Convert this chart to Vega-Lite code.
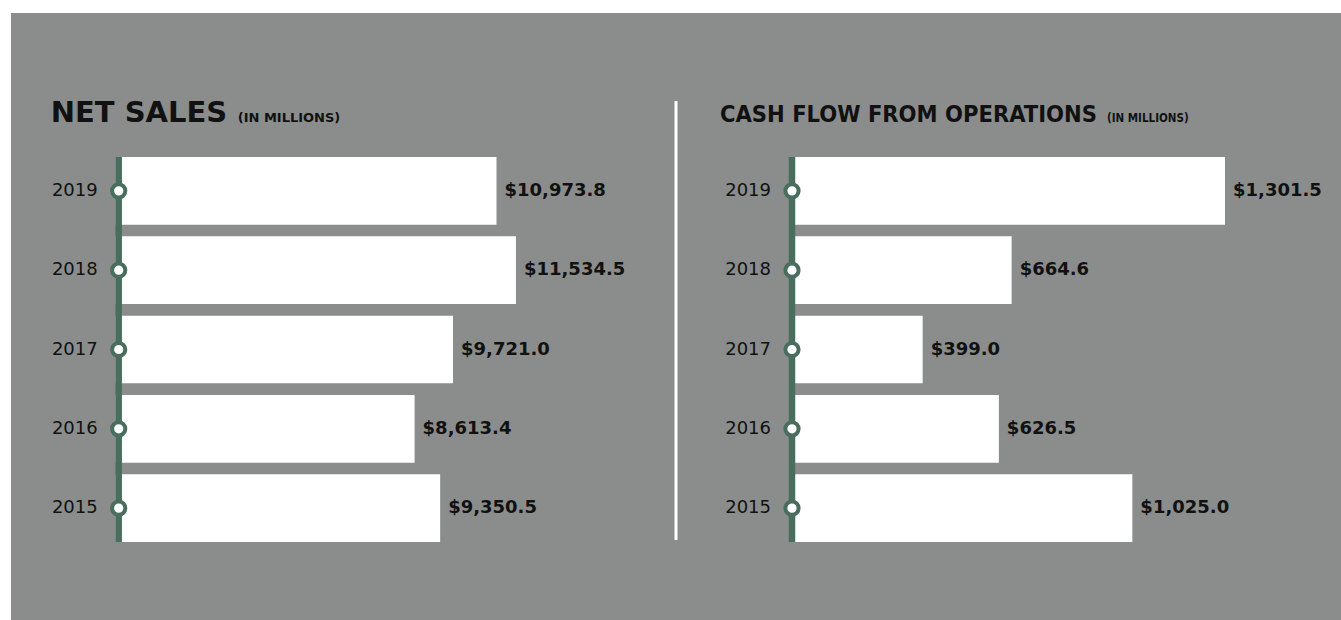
{
  "$schema": "https://vega.github.io/schema/vega-lite/v6.json",
  "width": 1341,
  "height": 620,
  "autosize": {"type": "fit", "contains": "padding"},
  "padding": {"left": 11, "top": 13, "right": 0, "bottom": 0},
  "background": "white",
  "config": {"view": {"fill": "#8a8d8c", "stroke": null}},
  "datasets": {
    "sales": [
      {"year": "2019", "value": 10973.8},
      {"year": "2018", "value": 11534.5},
      {"year": "2017", "value": 9721.0},
      {"year": "2016", "value": 8613.4},
      {"year": "2015", "value": 9350.5}
    ],
    "cash": [
      {"year": "2019", "value": 1301.5},
      {"year": "2018", "value": 664.6},
      {"year": "2017", "value": 399.0},
      {"year": "2016", "value": 626.5},
      {"year": "2015", "value": 1025.0}
    ],
    "one": [{"k": 1}]
  },
  "layer": [
    {
      "data": {"name": "sales"},
      "layer": [
        {
          "mark": {"type": "bar", "color": "white"},
          "encoding": {
            "y": {"field": "year", "type": "ordinal", "axis": null, "scale": {"domain": ["2019", "2018", "2017", "2016", "2015"], "paddingInner": 0.146, "paddingOuter": 0, "range": [144, 529]}},
            "x": {"field": "value", "type": "quantitative", "axis": null, "scale": {"domain": [-3017.3, 35311.2], "nice": false, "zero": false}},
            "x2": {"datum": 0}
          }
        },
        {
          "data": {"name": "one"},
          "mark": {"type": "rule", "color": "#4a6e5e", "strokeWidth": 6.5, "xOffset": 3},
          "encoding": {
            "x": {"datum": 0, "type": "quantitative"},
            "y": {"datum": "2019", "type": "ordinal", "bandPosition": 0},
            "y2": {"datum": "2015", "bandPosition": 1}
          }
        },
        {
          "mark": {"type": "point", "shape": "circle", "filled": true, "fill": "white", "stroke": "#4a6e5e", "strokeWidth": 4, "size": 175, "opacity": 1, "xOffset": 3},
          "encoding": {
            "y": {"field": "year", "type": "ordinal"},
            "x": {"datum": 0, "type": "quantitative"}
          }
        },
        {
          "mark": {"type": "text", "align": "right", "baseline": "middle", "dx": -18, "font": "DejaVu Sans", "fontSize": 18, "color": "#111111"},
          "encoding": {
            "y": {"field": "year", "type": "ordinal"},
            "x": {"datum": 0, "type": "quantitative"},
            "text": {"field": "year"}
          }
        },
        {
          "mark": {"type": "text", "align": "left", "baseline": "middle", "dx": 8, "font": "DejaVu Sans", "fontWeight": "bold", "fontSize": 18, "color": "#111111"},
          "encoding": {
            "y": {"field": "year", "type": "ordinal"},
            "x": {"field": "value", "type": "quantitative"},
            "text": {"field": "value", "type": "quantitative", "format": "$,.1f"}
          }
        },
        {
          "data": {"values": [{"t": "NET SALES"}]},
          "mark": {"type": "text", "align": "left", "baseline": "alphabetic", "dx": -65, "font": "DejaVu Sans", "fontWeight": "bold", "fontSize": 29, "color": "#111111"},
          "encoding": {
            "x": {"datum": 0, "type": "quantitative"},
            "y": {"datum": "2019", "type": "ordinal", "bandPosition": -0.51},
            "text": {"field": "t"}
          }
        },
        {
          "data": {"values": [{"t": "(IN MILLIONS)"}]},
          "mark": {"type": "text", "align": "left", "baseline": "alphabetic", "dx": 122, "font": "DejaVu Sans", "fontWeight": "bold", "fontSize": 13, "color": "#111111"},
          "encoding": {
            "x": {"datum": 0, "type": "quantitative"},
            "y": {"datum": "2019", "type": "ordinal", "bandPosition": -0.51},
            "text": {"field": "t"}
          }
        }
      ]
    },
    {
      "data": {"name": "cash"},
      "layer": [
        {
          "mark": {"type": "bar", "color": "white"},
          "encoding": {
            "y": {"field": "year", "type": "ordinal", "axis": null},
            "x": {"field": "value", "type": "quantitative", "axis": null, "scale": {"domain": [-2322.4, 1647.8], "nice": false, "zero": false}},
            "x2": {"datum": 0}
          }
        },
        {
          "data": {"name": "one"},
          "mark": {"type": "rule", "color": "#4a6e5e", "strokeWidth": 6.5, "xOffset": 3},
          "encoding": {
            "x": {"datum": 0, "type": "quantitative"},
            "y": {"datum": "2019", "type": "ordinal", "bandPosition": 0},
            "y2": {"datum": "2015", "bandPosition": 1}
          }
        },
        {
          "mark": {"type": "point", "shape": "circle", "filled": true, "fill": "white", "stroke": "#4a6e5e", "strokeWidth": 4, "size": 175, "opacity": 1, "xOffset": 3},
          "encoding": {
            "y": {"field": "year", "type": "ordinal"},
            "x": {"datum": 0, "type": "quantitative"}
          }
        },
        {
          "mark": {"type": "text", "align": "right", "baseline": "middle", "dx": -18, "font": "DejaVu Sans", "fontSize": 18, "color": "#111111"},
          "encoding": {
            "y": {"field": "year", "type": "ordinal"},
            "x": {"datum": 0, "type": "quantitative"},
            "text": {"field": "year"}
          }
        },
        {
          "mark": {"type": "text", "align": "left", "baseline": "middle", "dx": 8, "font": "DejaVu Sans", "fontWeight": "bold", "fontSize": 18, "color": "#111111"},
          "encoding": {
            "y": {"field": "year", "type": "ordinal"},
            "x": {"field": "value", "type": "quantitative"},
            "text": {"field": "value", "type": "quantitative", "format": "$,.1f"}
          }
        },
        {
          "data": {"values": [{"t": "CASH FLOW FROM OPERATIONS"}]},
          "mark": {"type": "text", "align": "left", "baseline": "alphabetic", "dx": -69, "font": "DejaVu Sans Condensed", "fontWeight": "bold", "fontSize": 23.5, "color": "#111111"},
          "encoding": {
            "x": {"datum": 0, "type": "quantitative"},
            "y": {"datum": "2019", "type": "ordinal", "bandPosition": -0.51},
            "text": {"field": "t"}
          }
        },
        {
          "data": {"values": [{"t": "(IN MILLIONS)"}]},
          "mark": {"type": "text", "align": "left", "baseline": "alphabetic", "dx": 318, "font": "DejaVu Sans Condensed", "fontWeight": "bold", "fontSize": 11.5, "color": "#111111"},
          "encoding": {
            "x": {"datum": 0, "type": "quantitative"},
            "y": {"datum": "2019", "type": "ordinal", "bandPosition": -0.51},
            "text": {"field": "t"}
          }
        }
      ]
    },
    {
      "data": {"name": "one"},
      "mark": {"type": "rule", "color": "white", "strokeWidth": 3},
      "encoding": {
        "x": {"datum": 0.5, "type": "quantitative", "axis": null, "scale": {"domain": [0, 1], "nice": false, "zero": false}},
        "y": {"datum": "2019", "type": "ordinal", "bandPosition": -0.827},
        "y2": {"datum": "2015", "bandPosition": 0.972}
      }
    }
  ],
  "resolve": {"scale": {"x": "independent"}}
}
